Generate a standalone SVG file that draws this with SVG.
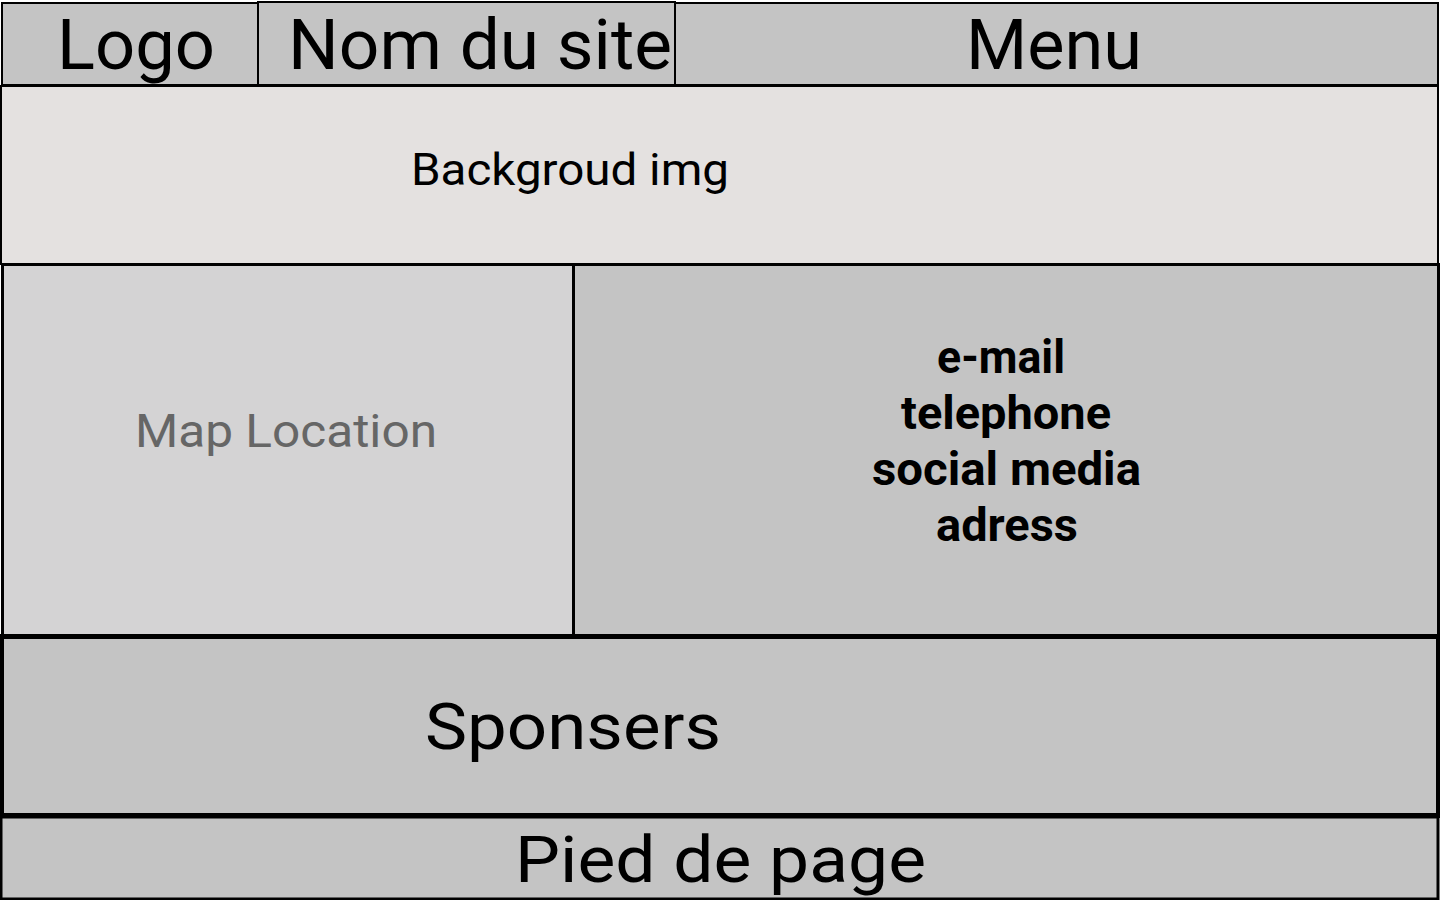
<svg xmlns="http://www.w3.org/2000/svg" width="1440" height="900" viewBox="0 0 1440 900">
  <style>
    .box { stroke: #000; }
    .hdr { fill: #c4c4c4; stroke-width: 2; }
    .lbl { font-family: Roboto, "Liberation Sans", sans-serif; fill: #000; }
    .narrow { font-size: 70px; }
    .contact { font-size: 46px; font-weight: 700; }
  </style>
  <rect width="1440" height="900" fill="#ffffff"/>

  <g id="logo">
    <rect class="box hdr" x="2" y="3" width="256" height="82"/>
    <text class="lbl narrow" x="57" y="69" textLength="158" lengthAdjust="spacingAndGlyphs">Logo</text>
  </g>
  <g id="site-name">
    <rect class="box hdr" x="258" y="2" width="417" height="83"/>
    <text class="lbl narrow" x="288" y="69" textLength="384" lengthAdjust="spacingAndGlyphs">Nom du site</text>
  </g>
  <g id="menu">
    <rect class="box hdr" x="675" y="3" width="763" height="82"/>
    <text class="lbl narrow" x="966" y="69" textLength="176" lengthAdjust="spacingAndGlyphs">Menu</text>
  </g>

  <g id="background">
    <rect class="box" x="1" y="86" width="1437" height="178" fill="#e4e1e0" stroke-width="2"/>
    <text class="lbl" x="411" y="185" font-size="44" textLength="318" lengthAdjust="spacingAndGlyphs">Backgroud img</text>
  </g>

  <g id="map">
    <rect class="box" x="2.5" y="264.5" width="571" height="371" fill="#d4d3d4" stroke-width="3"/>
    <text class="lbl" x="135" y="447" font-size="46" style="fill:#666666" textLength="302" lengthAdjust="spacingAndGlyphs">Map Location</text>
  </g>

  <g id="contact">
    <rect class="box" x="573.5" y="264.5" width="865" height="371" fill="#c4c4c4" stroke-width="3"/>
    <text class="lbl contact" x="937" y="373" textLength="128" lengthAdjust="spacingAndGlyphs">e-mail</text>
    <text class="lbl contact" x="901" y="429" textLength="210" lengthAdjust="spacingAndGlyphs">telephone</text>
    <text class="lbl contact" x="872" y="485" textLength="269" lengthAdjust="spacingAndGlyphs">social media</text>
    <text class="lbl contact" x="936" y="541" textLength="142" lengthAdjust="spacingAndGlyphs">adress</text>
  </g>

  <g id="sponsors">
    <rect class="box" x="1.5" y="636.5" width="1437" height="179" fill="#c4c4c4" stroke-width="5"/>
    <text class="lbl" x="425" y="749" font-size="64" textLength="296" lengthAdjust="spacingAndGlyphs">Sponsers</text>
  </g>

  <g id="footer">
    <rect class="box" x="1" y="817" width="1437" height="82" fill="#c4c4c4" stroke-width="3"/>
    <text class="lbl" x="515" y="882" font-size="64" textLength="411" lengthAdjust="spacingAndGlyphs">Pied de page</text>
  </g>

  <g id="connectors"/>
</svg>
